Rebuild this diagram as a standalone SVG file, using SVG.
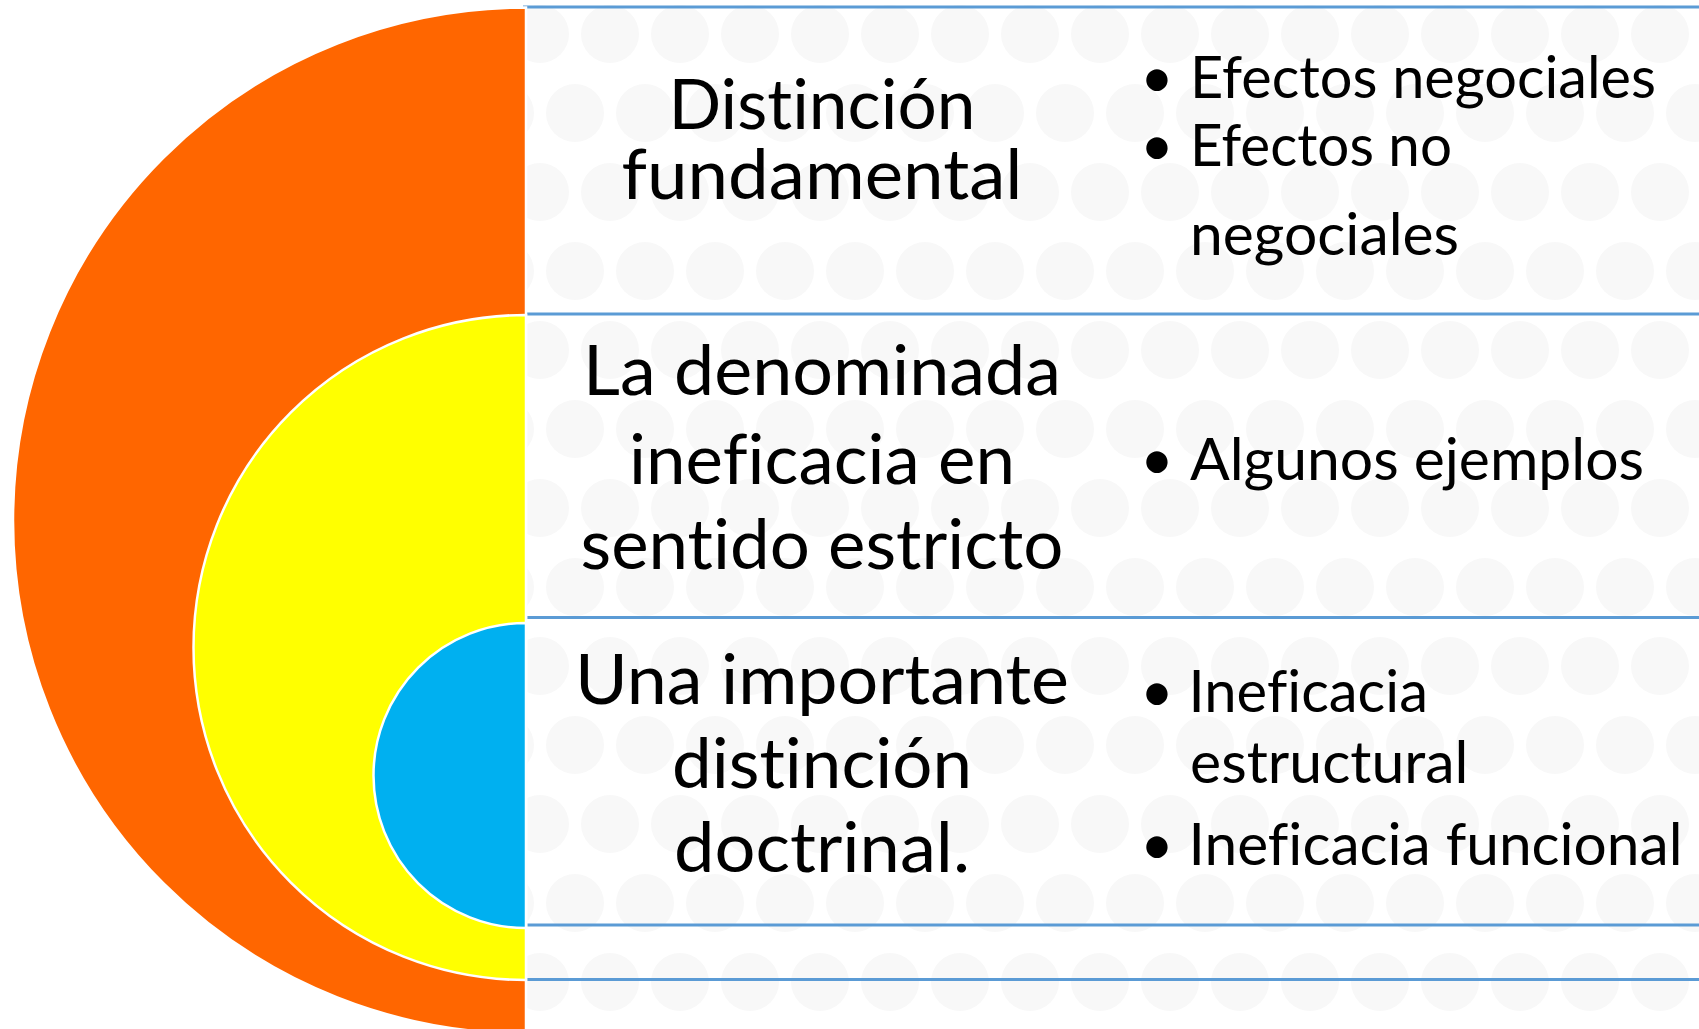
<svg xmlns="http://www.w3.org/2000/svg" width="1699" height="1029" viewBox="0 0 1699 1029">
  <style>
    .ring { stroke: #ffffff; stroke-width: 2.5; }
    .sep { stroke: #5b9bd5; stroke-width: 3; fill: none; }
    text { font-family: Lato, "Open Sans", sans-serif; fill: #000000; font-variant-ligatures: none; font-feature-settings: "liga" 0, "clig" 0; }
    .title { font-size: 70px; text-anchor: middle; }
    .item { font-size: 57.5px; }
    .bul { font-size: 57.5px; text-anchor: middle; }
  </style>
  <defs>
    <pattern id="wm" patternUnits="userSpaceOnUse" x="15" y="4" width="70" height="158">
      <circle cx="35" cy="30" r="29" fill="#f8f8f8"/>
      <circle cx="0" cy="109" r="29" fill="#f8f8f8"/>
      <circle cx="70" cy="109" r="29" fill="#f8f8f8"/>
    </pattern>
  </defs>
  <rect x="0" y="0" width="1699" height="1029" fill="#ffffff"/>
  <rect x="526" y="0" width="1173" height="1029" fill="url(#wm)"/>

  <g id="separators">
    <line class="sep" x1="523" y1="7" x2="1699" y2="7"/>
    <line class="sep" x1="523" y1="314" x2="1699" y2="314"/>
    <line class="sep" x1="523" y1="617.5" x2="1699" y2="617.5"/>
    <line class="sep" x1="523" y1="925" x2="1699" y2="925"/>
    <line class="sep" x1="523" y1="979.5" x2="1699" y2="979.5"/>
  </g>

  <g id="node-outer">
    <path class="ring" d="M526,7.5 A513,513 0 0 0 526,1033.5 Z" fill="#ff6600"/>
    <text class="title" x="822" y="129" textLength="307" lengthAdjust="spacingAndGlyphs">Distinción</text>
    <text class="title" x="822" y="199" textLength="401" lengthAdjust="spacingAndGlyphs">fundamental</text>
    <text class="bul" x="1157" y="97.5">•</text>
    <text class="item" x="1190" y="97.5" textLength="466" lengthAdjust="spacingAndGlyphs">Efectos negociales</text>
    <text class="bul" x="1157" y="166">•</text>
    <text class="item" x="1190" y="166" textLength="262" lengthAdjust="spacingAndGlyphs">Efectos no</text>
    <text class="item" x="1190" y="254.5" textLength="269" lengthAdjust="spacingAndGlyphs">negociales</text>
  </g>

  <g id="node-middle">
    <path class="ring" d="M526,315 A332.5,332.5 0 0 0 526,980 Z" fill="#ffff00"/>
    <text class="title" x="822" y="395" textLength="478" lengthAdjust="spacingAndGlyphs">La denominada</text>
    <text class="title" x="822" y="484" textLength="386" lengthAdjust="spacingAndGlyphs">ineficacia en</text>
    <text class="title" x="822" y="569" textLength="483" lengthAdjust="spacingAndGlyphs">sentido estricto</text>
    <text class="bul" x="1157" y="480">•</text>
    <text class="item" x="1190" y="480" textLength="454" lengthAdjust="spacingAndGlyphs">Algunos ejemplos</text>
  </g>

  <g id="node-inner">
    <path class="ring" d="M526,623 A152.5,152.5 0 0 0 526,928 Z" fill="#00b0f0"/>
    <text class="title" x="822" y="704" textLength="494" lengthAdjust="spacingAndGlyphs">Una importante</text>
    <text class="title" x="822" y="788" textLength="300" lengthAdjust="spacingAndGlyphs">distinción</text>
    <text class="title" x="822" y="872" textLength="296" lengthAdjust="spacingAndGlyphs">doctrinal.</text>
    <text class="bul" x="1157" y="712">•</text>
    <text class="item" x="1188.5" y="712" textLength="239.5" lengthAdjust="spacingAndGlyphs">Ineficacia</text>
    <text class="item" x="1190" y="783" textLength="278.5" lengthAdjust="spacingAndGlyphs">estructural</text>
    <text class="bul" x="1157" y="865">•</text>
    <text class="item" x="1188.5" y="865" textLength="494" lengthAdjust="spacingAndGlyphs">Ineficacia funcional</text>
  </g>
</svg>
